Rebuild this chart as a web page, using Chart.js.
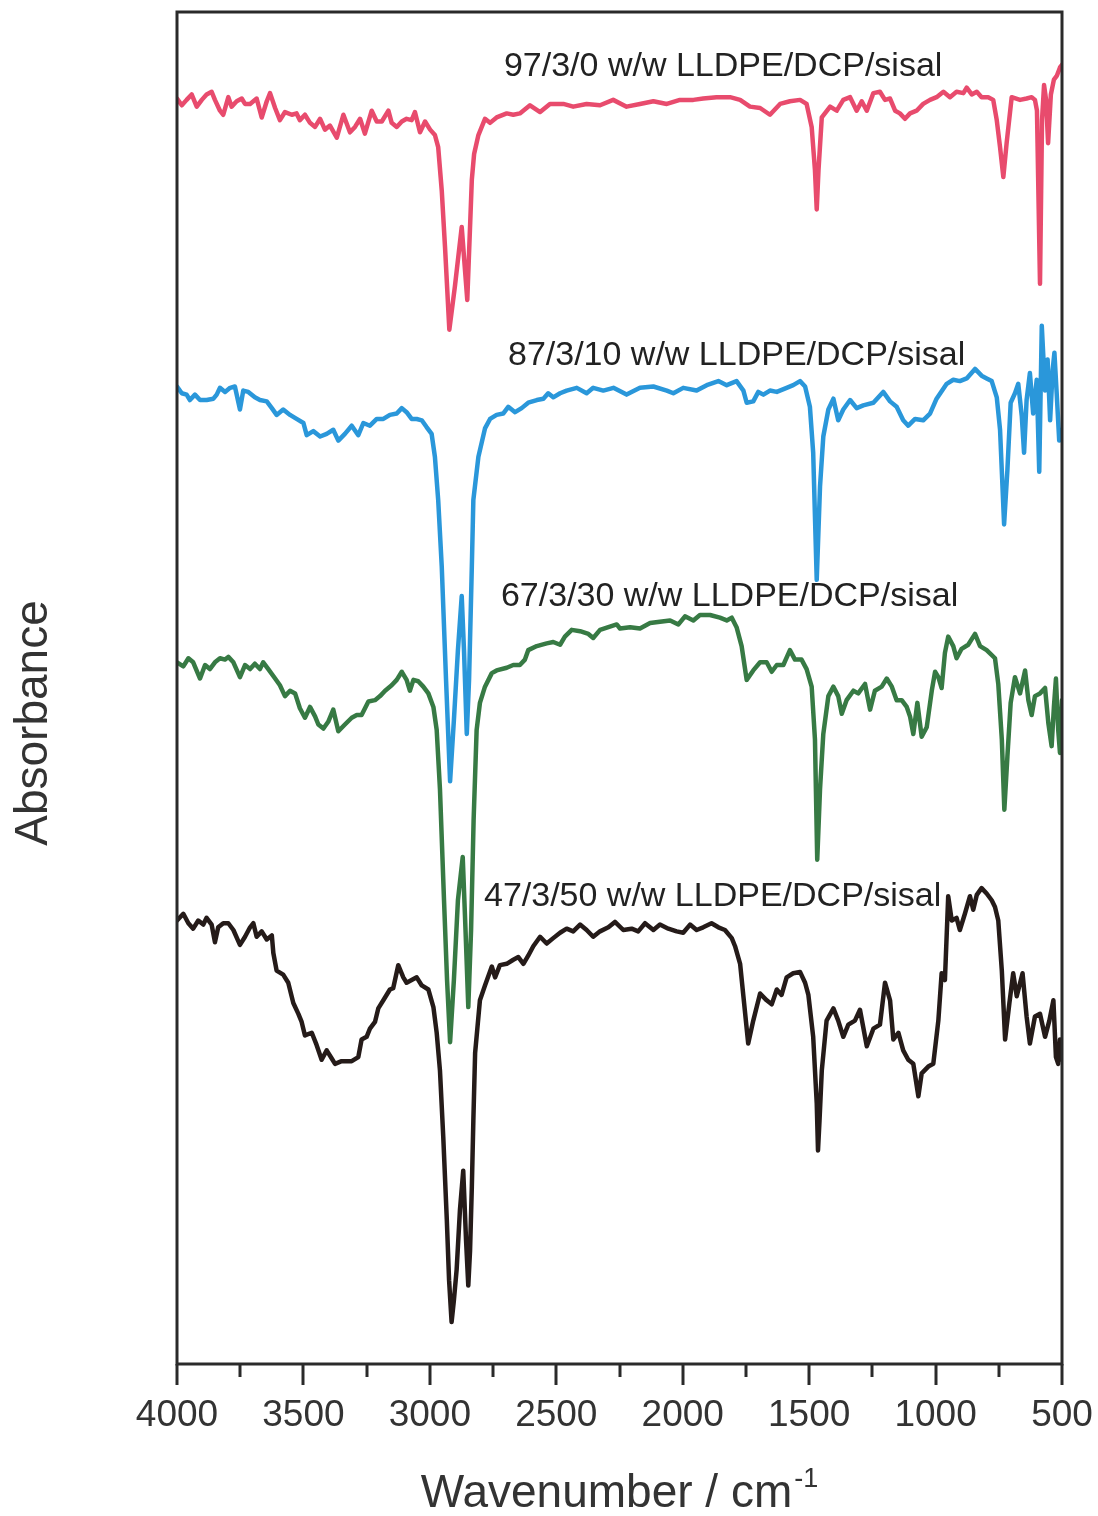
<!DOCTYPE html>
<html>
<head>
<meta charset="utf-8">
<title>FTIR spectra</title>
<script src="https://cdn.jsdelivr.net/npm/chart.js@4.4.1/dist/chart.umd.min.js"></script>
<style>
  html, body { margin: 0; padding: 0; background: #fff; }
  canvas { display: block; }
</style>
</head>
<body>
<canvas id="ftir" width="1098" height="1516"></canvas>
<script>
// spectra as [wavenumber (cm-1), absorbance (a.u., offset for stacking)]
const spectrum97 = [[4000,93.6],[3981,93.1],[3962,93.5],[3942,93.9],[3922,93.0],[3902,93.5],[3883,93.9],[3863,94.1],[3850,93.5],[3830,92.7],[3817,92.4],[3797,93.7],[3784,93.0],[3764,93.4],[3744,93.6],[3731,93.2],[3711,93.2],[3685,93.6],[3665,92.2],[3645,93.4],[3632,94.0],[3612,92.9],[3593,92.0],[3573,92.6],[3546,92.4],[3527,92.5],[3514,92.0],[3494,92.4],[3474,91.8],[3454,91.5],[3434,92.1],[3415,91.3],[3395,91.6],[3368,90.7],[3342,92.4],[3316,91.1],[3296,91.5],[3276,92.1],[3257,91.0],[3230,92.7],[3210,91.9],[3190,91.9],[3164,92.7],[3151,91.8],[3131,91.5],[3111,91.9],[3092,92.1],[3072,92.0],[3059,92.6],[3039,91.1],[3019,91.9],[2999,91.3],[2980,90.9],[2967,90.0],[2953,86.8],[2940,82.6],[2923,76.5],[2901,79.7],[2874,84.1],[2852,78.7],[2834,87.6],[2825,89.5],[2808,90.9],[2782,92.1],[2762,91.8],[2736,92.2],[2696,92.5],[2670,92.4],[2644,92.5],[2604,93.1],[2564,92.6],[2525,93.2],[2472,93.2],[2433,93.0],[2380,93.2],[2327,93.1],[2275,93.5],[2222,93.0],[2169,93.2],[2116,93.4],[2063,93.2],[2011,93.5],[1958,93.5],[1919,93.6],[1866,93.7],[1813,93.7],[1773,93.5],[1734,93.0],[1694,92.9],[1655,92.4],[1615,93.2],[1576,93.4],[1536,93.5],[1510,93.2],[1490,91.5],[1477,88.3],[1470,85.4],[1463,88.3],[1450,92.2],[1417,93.0],[1391,92.7],[1365,93.5],[1338,93.7],[1312,92.7],[1292,93.4],[1272,92.7],[1246,94.0],[1220,94.1],[1200,93.5],[1180,93.6],[1160,92.7],[1141,92.5],[1121,92.1],[1101,92.5],[1075,92.7],[1049,93.2],[1022,93.5],[996,93.7],[969,94.1],[943,93.7],[917,94.1],[890,94.0],[877,94.4],[857,93.9],[837,94.1],[818,93.7],[792,93.7],[772,93.5],[758,92.0],[745,90.0],[732,87.8],[719,90.3],[699,93.7],[666,93.5],[640,93.6],[620,93.7],[607,93.5],[599,92.7],[587,79.9],[579,92.0],[571,94.6],[563,93.5],[555,90.3],[544,93.9],[532,95.0],[520,95.3],[508,95.9],[500,96.1]];

const spectrum87 = [[4000,72.3],[3981,71.8],[3962,71.7],[3949,71.3],[3929,71.7],[3909,71.3],[3883,71.3],[3856,71.4],[3843,71.7],[3830,72.2],[3810,71.9],[3790,72.2],[3771,72.3],[3751,70.6],[3738,72.0],[3718,71.9],[3692,71.5],[3672,71.3],[3645,71.2],[3625,70.7],[3606,70.2],[3580,70.6],[3553,70.2],[3527,69.9],[3500,69.6],[3487,68.7],[3461,69.0],[3434,68.6],[3408,68.8],[3382,69.1],[3362,68.3],[3336,68.8],[3309,69.4],[3283,68.7],[3263,69.6],[3237,69.4],[3210,69.9],[3184,69.9],[3158,70.2],[3131,70.3],[3111,70.7],[3092,70.4],[3072,69.9],[3052,69.9],[3032,69.8],[3013,69.3],[2993,68.8],[2980,67.1],[2967,63.9],[2953,59.0],[2936,50.6],[2920,43.1],[2905,47.6],[2889,52.8],[2874,56.8],[2865,52.8],[2854,46.6],[2845,50.6],[2834,59.0],[2828,63.9],[2808,67.1],[2782,69.2],[2762,69.9],[2736,70.2],[2710,70.3],[2690,70.8],[2663,70.4],[2637,70.7],[2611,71.1],[2577,71.3],[2551,71.4],[2532,71.8],[2512,71.5],[2485,71.8],[2459,72.0],[2419,72.2],[2380,71.8],[2354,72.2],[2314,72.0],[2274,72.2],[2222,71.7],[2169,72.2],[2116,72.3],[2063,72.0],[2037,71.8],[1998,72.2],[1945,72.0],[1905,72.4],[1859,72.7],[1826,72.4],[1787,72.7],[1760,72.0],[1747,71.1],[1721,71.2],[1701,71.9],[1681,71.7],[1655,72.0],[1628,71.9],[1589,72.2],[1563,72.4],[1536,72.7],[1516,72.3],[1497,70.8],[1484,67.4],[1470,58.0],[1457,64.9],[1444,68.6],[1424,70.6],[1404,71.4],[1385,69.8],[1365,70.6],[1338,71.3],[1312,70.7],[1286,70.9],[1246,71.1],[1207,71.9],[1180,71.2],[1154,70.8],[1128,69.8],[1108,69.4],[1081,69.9],[1049,69.8],[1022,70.3],[996,71.4],[956,72.5],[930,72.8],[904,72.7],[877,72.9],[844,73.6],[818,73.1],[798,72.9],[778,72.7],[758,71.5],[745,69.1],[729,62.1],[716,66.1],[703,71.1],[686,71.8],[673,72.5],[659,70.1],[650,67.4],[640,71.3],[627,73.3],[614,70.3],[600,72.8],[590,66.0],[580,76.8],[567,72.0],[557,74.3],[547,69.8],[537,73.5],[530,74.8],[521,71.8],[511,68.3],[500,69.1]];

const spectrum67 = [[4000,51.9],[3975,51.6],[3955,52.2],[3936,51.9],[3909,50.7],[3889,51.7],[3870,51.4],[3850,51.9],[3830,52.2],[3810,52.1],[3797,52.3],[3777,51.9],[3751,50.8],[3731,51.7],[3711,51.4],[3692,51.8],[3672,51.4],[3659,51.9],[3639,51.4],[3612,50.7],[3593,50.2],[3573,49.4],[3553,49.8],[3533,49.6],[3514,48.5],[3494,47.8],[3474,48.6],[3454,47.9],[3441,47.3],[3421,47.0],[3402,47.5],[3382,48.4],[3362,46.8],[3336,47.3],[3309,47.8],[3289,48.0],[3270,48.0],[3243,49.0],[3217,49.1],[3197,49.4],[3177,49.8],[3151,50.2],[3131,50.6],[3111,51.2],[3092,50.6],[3079,49.8],[3065,50.6],[3046,50.5],[3026,50.1],[3006,49.6],[2986,48.6],[2973,46.9],[2960,42.5],[2944,34.3],[2932,28.4],[2920,23.8],[2905,28.4],[2889,34.3],[2870,37.5],[2859,32.1],[2848,26.4],[2837,32.1],[2827,40.2],[2815,46.9],[2802,48.9],[2782,50.1],[2755,51.1],[2736,51.3],[2696,51.5],[2670,51.7],[2644,51.7],[2624,52.1],[2611,52.8],[2577,53.1],[2538,53.3],[2512,53.4],[2485,53.2],[2466,53.8],[2439,54.3],[2406,54.2],[2373,54.0],[2354,53.7],[2327,54.3],[2294,54.5],[2261,54.7],[2248,54.4],[2208,54.5],[2169,54.4],[2129,54.8],[2090,54.9],[2050,55.0],[2017,54.7],[1991,55.3],[1958,55.0],[1932,55.4],[1892,55.4],[1853,55.2],[1826,55.0],[1806,55.2],[1787,54.5],[1767,53.1],[1747,50.6],[1721,51.3],[1694,51.9],[1668,51.9],[1648,51.2],[1628,51.7],[1602,51.7],[1576,52.8],[1556,52.1],[1530,52.1],[1510,51.4],[1490,50.1],[1477,46.2],[1468,37.3],[1457,42.5],[1444,46.6],[1424,49.4],[1404,50.1],[1385,49.4],[1371,48.1],[1352,49.1],[1325,49.8],[1306,49.6],[1279,50.3],[1259,48.4],[1240,49.8],[1213,50.1],[1193,50.7],[1173,50.1],[1154,49.1],[1134,49.1],[1114,48.6],[1101,47.9],[1088,46.6],[1072,48.9],[1055,46.4],[1035,47.1],[1015,49.8],[1002,51.2],[989,50.8],[976,50.0],[963,52.6],[950,53.8],[930,53.1],[917,52.2],[897,52.9],[871,53.2],[844,54.0],[824,53.1],[798,52.8],[765,52.2],[752,50.3],[738,46.2],[728,41.0],[716,44.9],[703,48.9],[686,50.8],[666,49.6],[646,51.3],[633,49.1],[620,48.0],[607,49.4],[587,49.6],[567,50.0],[554,47.4],[541,45.7],[532,48.6],[524,50.7],[515,46.9],[508,45.2],[500,49.1]];

const spectrum47 = [[4000,32.8],[3975,33.3],[3955,32.6],[3936,32.2],[3916,32.8],[3896,32.5],[3883,33.0],[3863,32.5],[3850,31.2],[3837,32.3],[3817,32.6],[3797,32.6],[3777,32.1],[3751,31.0],[3731,31.6],[3711,32.3],[3698,32.6],[3685,31.6],[3665,32.0],[3645,31.4],[3625,31.7],[3619,30.4],[3606,29.1],[3580,28.8],[3560,28.2],[3540,26.7],[3520,25.9],[3507,25.3],[3494,24.3],[3467,24.5],[3448,23.6],[3428,22.5],[3408,23.2],[3388,22.6],[3375,22.2],[3349,22.4],[3309,22.4],[3283,22.7],[3270,24.0],[3250,24.2],[3237,24.8],[3217,25.3],[3204,26.3],[3184,26.9],[3158,27.7],[3145,27.8],[3125,29.5],[3105,28.6],[3092,28.2],[3072,28.4],[3052,28.6],[3032,28.0],[3006,27.7],[2986,26.4],[2973,24.5],[2960,21.7],[2947,16.8],[2933,10.7],[2924,6.2],[2914,3.1],[2905,4.7],[2894,7.0],[2881,11.4],[2868,14.3],[2857,9.2],[2848,5.8],[2841,8.4],[2834,13.1],[2828,18.0],[2821,23.0],[2802,26.9],[2782,28.0],[2755,29.4],[2742,28.6],[2723,29.5],[2696,29.6],[2670,29.9],[2650,30.1],[2630,29.6],[2611,30.2],[2591,30.9],[2564,31.6],[2538,31.1],[2512,31.5],[2485,31.9],[2459,32.2],[2433,32.0],[2406,32.5],[2380,32.1],[2354,31.6],[2327,32.0],[2294,32.3],[2268,32.7],[2235,32.1],[2202,32.2],[2176,32.0],[2149,32.6],[2116,32.1],[2090,32.5],[2057,32.2],[2024,32.0],[1998,31.9],[1971,32.5],[1945,32.1],[1919,32.3],[1886,32.6],[1859,32.3],[1833,32.1],[1806,31.5],[1793,30.9],[1773,29.6],[1760,27.2],[1741,23.7],[1721,25.4],[1694,27.4],[1668,26.9],[1648,26.6],[1628,27.7],[1609,27.3],[1589,28.6],[1563,28.9],[1536,29.0],[1516,28.2],[1503,27.3],[1484,24.2],[1470,19.3],[1465,15.8],[1459,18.0],[1450,21.7],[1431,25.4],[1404,26.3],[1385,25.4],[1365,24.2],[1345,25.1],[1319,25.4],[1299,26.2],[1272,23.5],[1246,24.8],[1220,25.1],[1200,28.2],[1180,26.9],[1167,24.0],[1147,24.5],[1128,23.2],[1108,22.5],[1088,22.2],[1068,19.8],[1055,21.5],[1029,22.0],[1009,22.2],[989,25.4],[976,28.9],[963,28.4],[950,34.6],[936,32.8],[917,33.0],[904,32.1],[884,33.3],[864,34.6],[851,33.6],[837,34.7],[818,35.2],[798,34.8],[778,34.3],[765,33.8],[752,32.8],[738,29.1],[725,24.0],[708,26.7],[693,28.9],[679,27.2],[656,28.9],[640,25.7],[627,23.7],[607,25.7],[587,25.9],[567,24.2],[550,25.4],[534,26.9],[524,22.7],[515,22.2],[508,24.0],[500,22.5]];

const sampleNames = [
  '97/3/0 w/w LLDPE/DCP/sisal',
  '87/3/10 w/w LLDPE/DCP/sisal',
  '67/3/30 w/w LLDPE/DCP/sisal',
  '47/3/50 w/w LLDPE/DCP/sisal'
];
const xTickValues = [4000, 3500, 3000, 2500, 2000, 1500, 1000, 500];

const spectra = [spectrum97, spectrum87, spectrum67, spectrum47];
const lineColors = ['#e84b6d', '#2a97da', '#377a44', '#251b19'];
const FONT = '"Liberation Sans", Arial, Helvetica, sans-serif';

// frame, tick marks, sample names and axis titles
const decorations = {
  id: 'decorations',
  afterDraw(chart, args, opts) {
    const {ctx, chartArea: a, scales: {x, y}} = chart;
    ctx.save();
    ctx.strokeStyle = '#2a2a2a';
    ctx.lineWidth = 3;
    ctx.strokeRect(a.left, a.top, a.right - a.left, a.bottom - a.top);

    // major ticks at 500, minor at 250, outward
    for (let v = 4000; v >= 500; v -= 250) {
      const px = Math.round(x.getPixelForValue(v));
      const len = v % 500 === 0 ? 21 : 13;
      ctx.beginPath();
      ctx.moveTo(px, a.bottom);
      ctx.lineTo(px, a.bottom + len);
      ctx.stroke();
    }

    ctx.fillStyle = '#222';
    ctx.textBaseline = 'alphabetic';
    ctx.textAlign = 'left';
    ctx.font = '34px ' + FONT;
    opts.anchors.forEach(([wn, ab], i) => {
      ctx.fillText(sampleNames[i], x.getPixelForValue(wn), y.getPixelForValue(ab));
    });

    // x title with superscript
    const main = 'Wavenumber / cm', sup = '-1';
    ctx.font = '46px ' + FONT;
    const w1 = ctx.measureText(main).width;
    ctx.font = '27px ' + FONT;
    const w2 = ctx.measureText(sup).width;
    const x0 = (a.left + a.right) / 2 - (w1 + w2 + 2) / 2;
    ctx.fillStyle = '#333';
    ctx.font = '46px ' + FONT;
    ctx.fillText(main, x0, a.bottom + 143);
    ctx.font = '27px ' + FONT;
    ctx.fillText(sup, x0 + w1 + 2, a.bottom + 123);

    // y title
    ctx.translate(a.left - 130, (a.top + a.bottom) / 2 + 35);
    ctx.rotate(-Math.PI / 2);
    ctx.textAlign = 'center';
    ctx.font = '46px ' + FONT;
    ctx.fillText('Absorbance', 0, 0);
    ctx.restore();
  }
};

new Chart(document.getElementById('ftir'), {
  type: 'line',
  data: {
    datasets: spectra.map((s, i) => ({
      label: sampleNames[i],
      data: s.map(([wn, ab]) => ({x: wn, y: ab})),
      borderColor: lineColors[i],
      borderWidth: 4.5,
      borderJoinStyle: 'round',
      borderCapStyle: 'round',
      pointRadius: 0,
      tension: 0,
      fill: false
    }))
  },
  options: {
    responsive: false,
    animation: false,
    devicePixelRatio: 1,
    layout: {padding: {left: 177, right: 36, top: 12, bottom: 0}},
    plugins: {
      legend: {display: false},
      tooltip: {enabled: false},
      decorations: {anchors: [[2707, 95.3], [2691, 73.9], [2719, 56.1], [2786, 33.9]]}
    },
    scales: {
      x: {
        type: 'linear',
        reverse: true,
        min: 500,
        max: 4000,
        afterBuildTicks: s => { s.ticks = xTickValues.map(v => ({value: v})); },
        afterFit: s => {
          s.height = 152;
          s.paddingLeft = 0;
          s.paddingRight = 0;
        },
        grid: {display: false, drawTicks: false},
        border: {display: false},
        ticks: {
          color: '#333',
          padding: 30,
          maxRotation: 0,
          font: {family: FONT, size: 37},
          callback: v => String(v)
        }
      },
      y: {
        display: false,
        min: 0,
        max: 100
      }
    }
  },
  plugins: [decorations]
});
</script>
</body>
</html>
